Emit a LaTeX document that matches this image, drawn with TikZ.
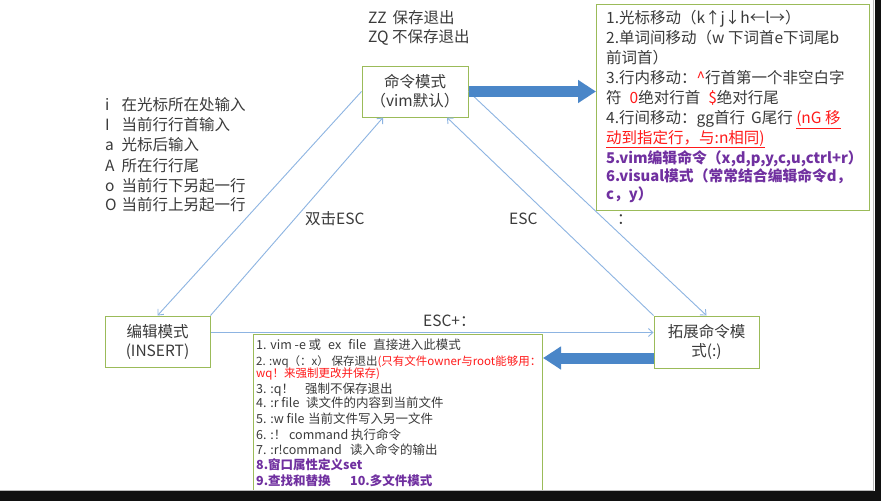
\documentclass[tikz,border=0pt]{standalone}
\usepackage{fontspec}
\setmainfont{Noto Sans CJK SC}
\usetikzlibrary{arrows.meta}
\definecolor{txt}{HTML}{3A3A3A}
\definecolor{boxg}{HTML}{9BBB59}
\definecolor{lblue}{HTML}{8DB4E2}
\definecolor{dblue}{HTML}{4A86C8}
\definecolor{purp}{HTML}{7030A0}
\definecolor{redt}{HTML}{FF1A1A}
\definecolor{scr}{HTML}{111111}
\begin{document}
\begin{tikzpicture}[x=1pt,y=-1pt,
  every node/.style={text=txt, inner sep=0pt, font=\fontsize{15.5}{19}\selectfont},
  mode/.style={draw=boxg, line width=1pt, fill=white, align=center},
  conn/.style={draw=lblue, line width=0.9pt, -{Straight Barb[length=4.5pt,width=8pt]}},
  fat/.style={draw=dblue, line width=11pt, -{Triangle[length=18pt,width=22pt]}},
  lt/.style={anchor=base west},
  sm/.style={anchor=base west, font=\fontsize{12.5}{15}\selectfont},
  xs/.style={anchor=base west, font=\fontsize{11.5}{14}\selectfont},
  pb/.style={anchor=base west, text=purp, font=\fontsize{14.8}{19}\selectfont\bfseries},
  pbs/.style={anchor=base west, text=purp, font=\fontsize{12.5}{15}\selectfont\bfseries},
]
\fill[white] (0,0) rectangle (881,501);
\useasboundingbox (0,0) rectangle (881,501);

% mode nodes
\node[mode, minimum width=106pt, minimum height=51pt] (cmd) at (415,91.5) {命令模式\\（vim默认）};
\node[mode, minimum width=105pt, minimum height=51pt] (edit) at (157.5,341.5) {编辑模式\\(INSERT)};
\node[mode, minimum width=105pt, minimum height=52pt] (ext) at (706.5,342) {拓展命令模\\式(:)};

% right info box
\node[draw=boxg, line width=1pt, anchor=north west, minimum width=273pt, minimum height=206pt] (rbox) at (596,4) {};
\node[lt] (r1) at (606,23) {1.光标移动（k↑j↓h←l→）};
\node[lt] (r2) at (606,43) {2.单词间移动（w 下词首e下词尾b};
\node[lt] (r3) at (606,63) {前词首）};
\node[lt] (r4) at (606,83.5) {3.行内移动：\textcolor{redt}{\textasciicircum}行首第一个非空白字};
\node[lt] (r5) at (606,103) {符\hspace{8pt}\textcolor{redt}{0}绝对行首\hspace{8pt}\textcolor{redt}{\$}绝对行尾};
\node[lt] (r6) at (606,123.5) {4.行间移动：gg首行\hspace{6pt}G尾行 \textcolor{redt}{\underline{(nG 移}}};
\node[lt, text=redt] (r7) at (606,143) {\underline{动到指定行，与:n相同)}};
\node[pb] (r8) at (606,163) {5.vim编辑命令（x,d,p,y,c,u,ctrl+r）};
\node[pb] (r9) at (606,181) {6.visual模式（常常结合编辑命令d，};
\node[pb] (r10) at (606,199) {c，y）};

% bottom info box
\node[draw=boxg, line width=1pt, fill=white, anchor=north west, minimum width=289pt, minimum height=162pt] (bbox) at (253,334) {};
\node[sm] (b1) at (256,349.5) {1. vim -e 或\hspace{7pt}ex\hspace{7pt}file\hspace{7pt}直接进入此模式};
\node[xs] (b2) at (256,365) {2. :wq（：x） 保存退出\textcolor{redt}{(只有文件owner与root能够用：}};
\node[xs, text=redt] (b3) at (256,377.5) {wq！来强制更改并保存)};
\node[sm] (b4) at (256,393) {\makebox[49pt][l]{3. :q！}强制不保存退出};
\node[sm] (b5) at (256,407) {\makebox[50pt][l]{4. :r file}读文件的内容到当前文件};
\node[sm] (b6) at (256,423) {\makebox[52pt][l]{5. :w file}当前文件写入另一文件};
\node[sm] (b7) at (256,439) {\makebox[95pt][l]{6. :！ command}执行命令};
\node[sm] (b8) at (256,454) {\makebox[94pt][l]{7. :r!command}读入命令的输出};
\node[pbs] (b9) at (256,469.5) {8.窗口属性定义set};
\node[pbs] (b10) at (256,485) {9.查找和替换};
\node[pbs] (b11) at (350,485) {10.多文件模式};

% left list
\node[lt] (l1) at (105,110) {\makebox[16.5pt][l]{i}在光标所在处输入};
\node[lt] (l2) at (105,130) {\makebox[16.5pt][l]{I}当前行行首输入};
\node[lt] (l3) at (105,150.5) {\makebox[16.5pt][l]{a}光标后输入};
\node[lt] (l4) at (105,171) {\makebox[16.5pt][l]{A}所在行行尾};
\node[lt] (l5) at (105,191) {\makebox[16.5pt][l]{o}当前行下另起一行};
\node[lt] (l6) at (105,210) {\makebox[16.5pt][l]{O}当前行上另起一行};

% top text
\node[lt] (zz) at (368,23) {ZZ\hspace{6pt}保存退出};
\node[lt] (zq) at (368,42) {ZQ 不保存退出};

% labels
\node[lt] (esc2) at (305,224) {双击ESC};
\node[lt] (esc1) at (509,224) {ESC};
\node[lt] (colon) at (617,224) {：};
\node[lt] (escp) at (423,326) {ESC+：};

% thin connectors
\coordinate (hstart) at ([yshift=9pt]edit.east);
\draw[conn] (cmd.west) -- (edit.north);
\draw[conn] (edit.north east) -- ([xshift=-32pt]cmd.south);
\draw[conn] (ext.north west) -- ([xshift=32pt]cmd.south);
\draw[conn] (cmd.east) -- (ext.north);
\draw[conn] (hstart) -- (hstart -| ext.west);

% thick arrows
\coordinate (f2) at ([yshift=-16pt]ext.west);
\draw[fat] (cmd.east) -- (cmd.east -| rbox.west);
\draw[fat] (f2) -- (f2 -| bbox.east);

% screen border
\fill[scr] (874.5,0) rectangle (881,501);
\fill[scr] (0,491) rectangle (881,501);
\draw[gray!55, line width=1pt] (873.5,0) -- (873.5,490.5) -- (0,490.5);
\end{tikzpicture}
\end{document}
